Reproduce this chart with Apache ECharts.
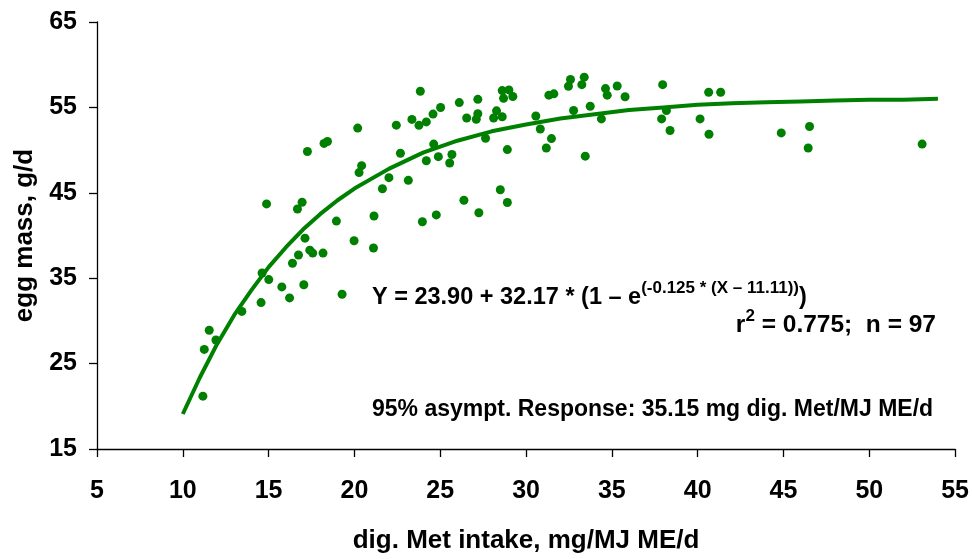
<!DOCTYPE html>
<html>
<head>
<meta charset="utf-8">
<script src="https://cdn.jsdelivr.net/npm/echarts@6/dist/echarts.min.js"></script>
<style>
html,body{margin:0;padding:0;background:#fff;}
#chart{width:972px;height:559px;}
</style>
</head>
<body>
<div id="chart"></div>
<script>
// Observed data points (dig. Met intake, egg mass)
var pointX = [16.74,17.57,18.17,16.39,14.62,15.01,15.77,17.05,16.22,19.28,14.56,13.44,11.54,11.93,11.25,11.17,
  20.19,22.44,23.35,23.76,24.19,18.43,18.23,17.26,24.62,22.68,24.19,24.89,20.42,20.27,22.01,23.14,21.63,14.88,16.95,16.68,18.95,21.14,24.77,23.96,17.12,19.98,21.11,17.40,
  23.84,24.58,25.02,26.11,27.19,26.54,27.19,27.10,28.28,28.11,28.61,28.61,29.00,28.69,29.23,31.33,31.62,32.59,32.47,33.39,33.25,33.74,32.77,30.57,30.83,31.48,31.18,33.45,25.68,25.55,27.64,28.91,28.50,26.38,28.91,27.25,
  34.63,34.73,35.31,35.77,34.39,37.96,38.18,37.90,38.39,40.64,41.34,40.14,40.66,44.87,46.52,46.44,53.08];
var pointY = [37.71,37.94,37.94,36.75,35.61,34.84,33.98,34.23,32.69,33.12,32.14,31.11,28.91,27.76,26.66,21.19,
  52.58,52.92,53.59,52.90,53.30,51.01,50.78,49.83,50.70,49.63,48.75,49.23,48.18,47.37,46.77,46.46,45.47,43.70,43.90,43.10,41.69,42.29,42.41,41.61,39.69,39.39,38.54,38.28,
  56.89,54.22,54.99,55.56,55.94,53.76,54.26,53.61,54.60,53.76,53.91,56.97,57.05,56.06,56.28,56.43,56.59,58.27,57.47,58.54,57.66,55.14,54.64,53.99,52.47,51.35,50.24,49.29,49.48,48.49,51.39,50.06,45.36,44.13,43.86,42.67,
  57.20,56.43,57.51,56.25,53.65,57.66,54.64,53.65,52.30,56.78,56.78,53.65,51.85,52.01,52.76,50.24,50.70];

// Fitted curve
var curveX = [10,11,12,13,14,15,16,17,18,19,20,22,24,26,28,30,32,34,36,38,40,42,44,46,48,50,52,54];
var curveY = [19.1,23.4,27.3,30.7,33.6,36.3,38.6,40.7,42.5,44.1,45.5,47.8,49.7,51.1,52.2,53.0,53.7,54.2,54.7,55.0,55.3,55.5,55.6,55.7,55.8,55.9,55.9,56.0];

var xTicks = {min:5, max:55, interval:5};
var yTicks = {min:15, max:65, interval:10};

var xAxisTitle = 'dig. Met intake, mg/MJ ME/d';
var yAxisTitle = 'egg mass, g/d';
var eqMain = 'Y = 23.90 + 32.17 * (1 – e';
var eqSup = '(-0.125 * (X – 11.11))';
var eqEnd = ')';
var statLine = ['r', '2', ' = 0.775;  n = 97'];
var asymptText = '95% asympt. Response: 35.15 mg dig. Met/MJ ME/d';

var GREEN = '#008000';
var FONT = 'Liberation Sans, Arial, sans-serif';

var scatterData = pointX.map(function(x,i){return [x, pointY[i]];});
var curveData = curveX.map(function(x,i){return [x, curveY[i]];});

var chart = echarts.init(document.getElementById('chart'), null, {renderer:'canvas'});
var richBase = {
  b: {fontFamily: FONT, fontWeight: 'bold', fontSize: 23.5, color: '#000', lineHeight: 30, verticalAlign: 'bottom'},
  s: {fontFamily: FONT, fontWeight: 'bold', fontSize: 17, color: '#000', lineHeight: 18, verticalAlign: 'top'}
};
var richStat = {
  b: {fontFamily: FONT, fontWeight: 'bold', fontSize: 24.5, color: '#000', lineHeight: 30, verticalAlign: 'bottom'},
  s: {fontFamily: FONT, fontWeight: 'bold', fontSize: 17, color: '#000', lineHeight: 18, verticalAlign: 'top'}
};
chart.setOption({
  animation: false,
  backgroundColor: '#fff',
  grid: {left: 97, right: 16, top: 22, bottom: 101, containLabel: false},
  title: [
    {text: '{b|' + eqMain + '}{s|' + eqSup + '}{b|' + eqEnd + '}', left: 372, top: 280, padding: 0,
      textStyle: {rich: richBase}},
    {text: '{b|' + statLine[0] + '}{s|' + statLine[1] + '}{b|' + statLine[2] + '}', right: 36, top: 308, padding: 0,
      textStyle: {rich: richStat}},
    {text: asymptText, left: 372, top: 398, padding: 0,
      textStyle: {fontFamily: FONT, fontWeight: 'bold', fontSize: 23, color: '#000'}}
  ],
  xAxis: {
    type: 'value', min: xTicks.min, max: xTicks.max, interval: xTicks.interval,
    name: xAxisTitle, nameLocation: 'middle', nameGap: 79,
    nameTextStyle: {fontFamily: FONT, fontWeight: 'bold', fontSize: 26, color: '#000'},
    axisLine: {show: true, onZero: false, lineStyle: {color: '#000', width: 1.3}},
    axisTick: {show: true, inside: false, length: 8, lineStyle: {color: '#000', width: 1.3}},
    axisLabel: {margin: 30, fontFamily: FONT, fontWeight: 'bold', fontSize: 25, color: '#000'},
    splitLine: {show: false}
  },
  yAxis: {
    type: 'value', min: yTicks.min, max: yTicks.max, interval: yTicks.interval,
    name: yAxisTitle, nameLocation: 'middle', nameGap: 51, nameRotate: 90,
    nameTextStyle: {fontFamily: FONT, fontWeight: 'bold', fontSize: 26, color: '#000'},
    axisLine: {show: true, onZero: false, lineStyle: {color: '#000', width: 1.3}},
    axisTick: {show: true, inside: false, length: 8, lineStyle: {color: '#000', width: 1.3}},
    axisLabel: {margin: 20, fontFamily: FONT, fontWeight: 'bold', fontSize: 25, color: '#000'},
    splitLine: {show: false}
  },
  series: [
    {type: 'scatter', data: scatterData, symbol: 'circle', symbolSize: 9,
      itemStyle: {color: GREEN, opacity: 1}, z: 2},
    {type: 'line', data: curveData, showSymbol: false, symbol: 'none', smooth: false,
      lineStyle: {color: GREEN, width: 4}, z: 3}
  ]
});
</script>
</body>
</html>
